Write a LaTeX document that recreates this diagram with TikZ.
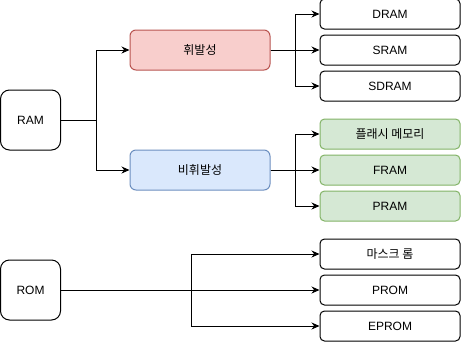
\documentclass[tikz,border=0pt]{standalone}
\usepackage{fontspec}
\setmainfont{Liberation Sans}
\newfontfamily\kr{Noto Sans CJK KR}
\usepackage{tikz}
\usetikzlibrary{arrows.meta,positioning}
\definecolor{volred}{HTML}{F8CECC}
\definecolor{volredline}{HTML}{B85450}
\definecolor{nvblue}{HTML}{DAE8FC}
\definecolor{nvblueline}{HTML}{6C8EBF}
\definecolor{flashgreen}{HTML}{D5E8D4}
\definecolor{flashgreenline}{HTML}{82B366}

\begin{document}
\begin{tikzpicture}[
  x=1pt, y=-1pt,
  mem/.style={draw, rectangle, rounded corners=9pt, line width=1pt,
              minimum width=60pt, minimum height=60pt,
              font=\fontsize{12}{14}\selectfont, inner sep=0pt},
  kind/.style={draw, rectangle, rounded corners=6pt, line width=1pt,
               minimum width=140pt, minimum height=40pt,
               font=\fontsize{12}{14}\selectfont\kr, inner sep=0pt},
  leaf/.style={draw, rectangle, rounded corners=4.5pt, line width=1pt,
               minimum width=140pt, minimum height=30pt,
               font=\fontsize{12}{14}\selectfont, inner sep=0pt},
  arr/.style={-{Stealth[length=8pt,width=7pt]}, line width=1pt},
  node distance=5pt
]
  \useasboundingbox (0,0) rectangle (461,341);

  %% RAM side
  \node[mem] (ram) at (30.5,120) {RAM};
  \node[kind, fill=volred, draw=volredline] (vol) at (200,50) {휘발성};
  \node[kind, fill=nvblue, draw=nvblueline] (nonvol) at (200,170) {비휘발성};

  %% Volatile children
  \node[leaf] (sram) at (390,50) {SRAM};
  \node[leaf, above=of sram] (dram) {DRAM};
  \node[leaf, below=of sram] (sdram) {SDRAM};

  %% Non-volatile children
  \node[leaf, fill=flashgreen, draw=flashgreenline] (fram) at (390,170) {FRAM};
  \node[leaf, fill=flashgreen, draw=flashgreenline, above=of fram] (flash) {\kr 플래시 메모리};
  \node[leaf, fill=flashgreen, draw=flashgreenline, below=of fram] (pram) {PRAM};

  %% ROM side
  \node[mem] (rom) at (30.5,290) {ROM};
  \node[leaf] (prom) at (390,290) {PROM};
  \node[leaf, above=of prom] (mask) {\kr 마스크 롬};
  \node[leaf, below=of prom] (eprom) {EPROM};

  %% Arrows
  \draw[arr] (ram.east) -- ++(35,0) |- (vol.west);
  \draw[arr] (ram.east) -- ++(35,0) |- (nonvol.west);
  \draw[arr] (vol.east) -- ++(25,0) |- (dram.west);
  \draw[arr] (vol) -- (sram);
  \draw[arr] (vol.east) -- ++(25,0) |- (sdram.west);
  \draw[arr] (nonvol.east) -- ++(25,0) |- (flash.west);
  \draw[arr] (nonvol) -- (fram);
  \draw[arr] (nonvol.east) -- ++(25,0) |- (pram.west);
  \draw[arr] (rom.east) -- ++(130,0) |- (mask.west);
  \draw[arr] (rom) -- (prom);
  \draw[arr] (rom.east) -- ++(130,0) |- (eprom.west);
\end{tikzpicture}
\end{document}
